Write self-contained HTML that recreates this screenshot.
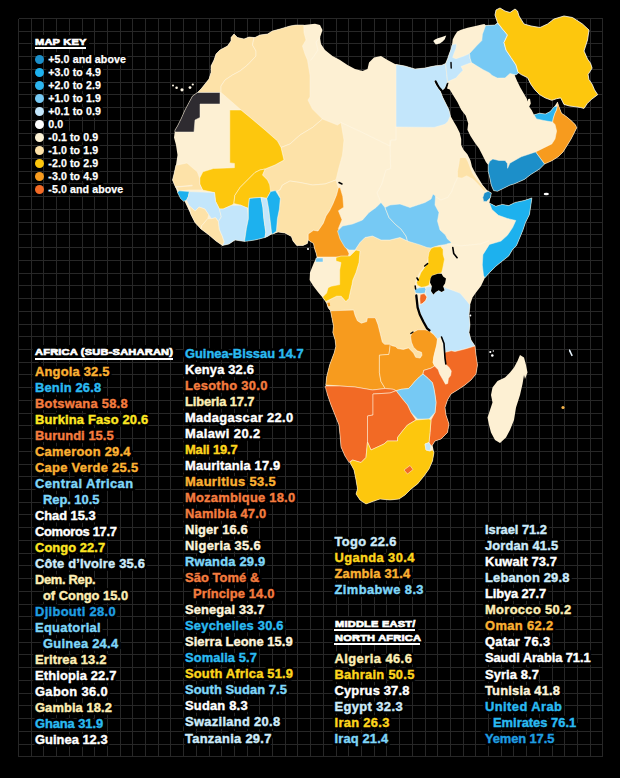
<!DOCTYPE html>
<html><head><meta charset="utf-8"><title>Map</title>
<style>
html,body{margin:0;padding:0;background:#000;}
body{width:620px;height:778px;position:relative;overflow:hidden;font-family:"Liberation Sans",sans-serif;}
.t{position:absolute;font-weight:bold;font-size:12.9px;line-height:16px;white-space:nowrap;letter-spacing:0.2px;-webkit-text-stroke:0.4px currentColor;}
.hl{color:#000 !important;-webkit-text-stroke:5.5px #000 !important;}
.h span{background:#000;padding:1px 2px 1px 2px;margin-left:-2px;}
.k{position:absolute;font-weight:bold;font-size:10.6px;line-height:12px;color:#fff;white-space:nowrap;letter-spacing:0.1px;-webkit-text-stroke:0.25px #fff;}
.dot{position:absolute;width:9px;height:9px;border-radius:50%;}
.h{position:absolute;font-weight:bold;color:#fff;font-size:9.8px;line-height:10px;letter-spacing:0.2px;white-space:nowrap;transform:scaleX(1.125);transform-origin:0 0;-webkit-text-stroke:0.7px #fff;}
.u{position:absolute;height:2px;background:#fff;z-index:3;}
</style></head><body>
<svg width="620" height="778" viewBox="0 0 620 778" style="position:absolute;left:0;top:0">
<path d="M18.50 18.50V756.80M31.50 18.50V756.80M43.50 18.50V756.80M56.50 18.50V756.80M69.50 18.50V756.80M82.50 18.50V756.80M94.50 18.50V756.80M107.50 18.50V756.80M120.50 18.50V756.80M132.50 18.50V756.80M145.50 18.50V756.80M158.50 18.50V756.80M170.50 18.50V756.80M183.50 18.50V756.80M196.50 18.50V756.80M209.50 18.50V756.80M221.50 18.50V756.80M234.50 18.50V756.80M247.50 18.50V756.80M259.50 18.50V756.80M272.50 18.50V756.80M285.50 18.50V756.80M297.50 18.50V756.80M310.50 18.50V756.80M323.50 18.50V756.80M336.50 18.50V756.80M348.50 18.50V756.80M361.50 18.50V756.80M374.50 18.50V756.80M386.50 18.50V756.80M399.50 18.50V756.80M412.50 18.50V756.80M425.50 18.50V756.80M437.50 18.50V756.80M450.50 18.50V756.80M463.50 18.50V756.80M475.50 18.50V756.80M488.50 18.50V756.80M501.50 18.50V756.80M513.50 18.50V756.80M526.50 18.50V756.80M539.50 18.50V756.80M552.50 18.50V756.80M564.50 18.50V756.80M577.50 18.50V756.80M590.50 18.50V756.80M602.50 18.50V756.80M18.50 18.50H602.90M18.50 31.50H602.90M18.50 43.50H602.90M18.50 56.50H602.90M18.50 69.50H602.90M18.50 82.50H602.90M18.50 94.50H602.90M18.50 107.50H602.90M18.50 120.50H602.90M18.50 133.50H602.90M18.50 145.50H602.90M18.50 158.50H602.90M18.50 171.50H602.90M18.50 183.50H602.90M18.50 196.50H602.90M18.50 209.50H602.90M18.50 222.50H602.90M18.50 234.50H602.90M18.50 247.50H602.90M18.50 260.50H602.90M18.50 273.50H602.90M18.50 285.50H602.90M18.50 298.50H602.90M18.50 311.50H602.90M18.50 324.50H602.90M18.50 336.50H602.90M18.50 349.50H602.90M18.50 362.50H602.90M18.50 374.50H602.90M18.50 387.50H602.90M18.50 400.50H602.90M18.50 413.50H602.90M18.50 425.50H602.90M18.50 438.50H602.90M18.50 451.50H602.90M18.50 464.50H602.90M18.50 476.50H602.90M18.50 489.50H602.90M18.50 502.50H602.90M18.50 514.50H602.90M18.50 527.50H602.90M18.50 540.50H602.90M18.50 553.50H602.90M18.50 565.50H602.90M18.50 578.50H602.90M18.50 591.50H602.90M18.50 604.50H602.90M18.50 616.50H602.90M18.50 629.50H602.90M18.50 642.50H602.90M18.50 654.50H602.90M18.50 667.50H602.90M18.50 680.50H602.90M18.50 693.50H602.90M18.50 705.50H602.90M18.50 718.50H602.90M18.50 731.50H602.90M18.50 744.50H602.90M18.50 756.50H602.90" stroke="#272727" stroke-width="1" shape-rendering="crispEdges" fill="none"/>
<g stroke-linejoin="round">
<polygon points="234.0,34.0 237.5,37.5 244.0,39.0 249.0,37.0 255.0,37.5 260.0,35.0 267.5,34.0 272.5,31.0 280.0,29.0 290.0,26.0 296.0,25.0 303.8,25.0 315.0,23.8 320.0,25.0 322.5,30.0 320.0,37.5 321.0,44.0 325.0,50.0 332.5,56.0 340.0,60.0 347.5,65.0 355.0,69.0 362.5,71.0 367.5,69.0 369.0,62.5 374.0,57.5 381.0,56.0 387.5,60.0 395.0,64.0 405.0,66.0 415.0,69.0 425.0,68.0 428.9,67.1 435.3,65.8 441.8,65.2 445.6,63.5 447.6,82.0 445.6,87.0 443.0,89.7 441.0,90.0 439.2,88.4 437.3,84.5 435.3,80.6 434.5,81.5 436.0,85.0 438.1,88.0 440.4,91.2 442.7,97.3 445.8,103.5 448.9,109.7 450.4,115.8 453.5,121.2 456.6,126.6 459.7,132.8 461.2,138.9 461.2,145.1 463.5,149.7 467.4,154.3 470.5,160.5 472.0,166.7 475.1,172.8 478.9,179.0 482.8,185.2 486.6,189.8 489.7,192.1 491.3,193.0 490.5,197.5 489.4,203.1 495.8,206.3 502.3,204.4 508.7,205.6 515.2,202.4 524.2,200.5 531.9,197.9 530.6,206.9 529.4,214.7 525.5,222.4 522.9,230.2 519.7,237.9 516.5,245.6 512.6,249.5 508.7,256.0 502.3,261.1 495.8,266.3 489.4,272.7 484.8,277.9 481.0,286.0 476.0,292.5 472.5,297.5 470.0,305.0 469.0,315.0 470.0,325.0 469.0,332.5 471.0,340.0 475.0,346.0 476.0,355.0 477.5,365.0 476.0,374.0 471.0,380.0 465.0,385.0 457.5,390.0 451.0,394.0 447.5,400.0 445.0,407.5 446.0,415.0 449.0,424.0 447.5,432.5 441.0,439.0 435.0,441.0 432.5,445.0 434.0,452.5 432.5,461.0 429.0,469.0 424.0,476.0 417.5,484.0 411.0,489.0 405.0,495.0 399.0,499.0 390.0,500.0 380.0,499.0 374.0,501.0 366.0,504.0 360.0,500.0 356.0,494.0 357.5,489.0 356.0,480.0 354.0,470.0 350.0,462.5 345.0,456.0 341.0,447.0 340.0,435.0 339.0,425.0 335.0,415.0 331.0,405.0 327.5,395.0 325.8,385.0 326.6,377.1 328.1,370.9 329.7,364.8 332.0,358.6 334.3,352.4 335.8,346.3 335.1,340.1 332.8,332.4 333.5,326.2 332.0,318.5 330.5,310.8 328.1,307.7 326.6,303.1 322.7,297.7 318.1,292.3 313.5,286.2 309.6,280.0 310.0,272.5 314.0,262.5 317.0,257.0 316.2,253.4 314.4,248.0 313.5,243.6 308.2,240.0 307.3,243.6 303.0,245.4 296.7,245.4 293.0,241.0 291.4,236.5 285.0,233.0 278.0,232.0 272.7,233.9 265.0,237.5 255.0,240.0 245.0,241.0 235.0,240.0 229.0,244.0 222.5,245.5 216.0,241.0 209.0,235.0 201.0,229.0 195.0,222.5 191.0,215.0 187.5,207.5 184.0,200.0 177.5,192.5 175.0,186.0 172.5,180.0 174.0,174.0 176.0,165.0 177.5,155.0 176.0,145.0 174.0,137.5 175.0,130.0 177.5,126.0 181.0,119.0 185.0,110.0 189.0,102.5 192.5,96.0 197.5,92.5 201.0,89.0 205.0,84.0 209.0,79.0 211.0,72.5 211.0,66.0 214.0,60.0 216.0,54.0 220.0,50.0 227.5,46.0 231.0,41.0 231.0,37.5" fill="#fdf0d3" stroke="none" stroke-width="0"/>
<polygon points="445.6,63.2 447.6,58.7 448.9,54.8 450.8,49.7 452.1,44.5 452.7,39.4 454.7,35.5 457.3,31.6 461.1,29.7 467.6,27.7 476.6,25.8 481.8,24.5 484.4,23.9 486.0,25.5 495.0,25.0 497.5,22.5 502.5,29.0 507.5,35.0 504.0,42.5 506.0,50.0 511.0,57.5 516.0,65.0 519.0,72.5 514.7,75.3 517.1,81.0 520.3,87.4 523.5,93.1 526.8,98.7 527.8,101.5 528.2,98.9 530.0,98.7 530.8,103.5 529.2,106.8 531.6,110.0 534.0,114.8 539.7,113.2 545.3,114.0 550.2,111.6 554.2,106.8 557.4,102.0 559.0,106.8 561.5,113.2 566.3,116.5 571.1,120.5 575.2,124.5 576.8,127.7 574.4,132.6 571.1,139.0 567.1,145.5 563.1,151.9 558.2,156.8 551.8,160.8 544.5,164.0 539.7,168.9 530.8,174.5 524.4,179.4 515.0,183.6 509.8,185.2 503.6,188.3 497.4,191.3 493.6,190.6 491.3,185.2 489.7,177.5 488.2,171.3 488.2,165.1 485.9,162.1 482.0,154.3 478.9,148.2 474.3,142.0 470.5,135.9 467.4,129.7 468.2,123.5 465.8,115.8 461.2,109.7 457.4,102.0 453.5,95.8 449.7,89.6 447.0,88.5 448.5,83.0 447.6,82.0" fill="#fdf0d3" stroke="none" stroke-width="0"/>
<polygon points="254.0,37.5 249.0,37.0 244.0,39.0 237.5,37.5 234.0,34.0 231.0,37.5 231.0,41.0 227.5,46.0 220.0,50.0 216.0,54.0 214.0,60.0 211.0,66.0 211.0,72.5 209.0,79.0 205.0,84.0 201.0,89.0 197.5,92.5 221.0,92.5 221.0,86.0 225.0,80.0 232.5,75.0 240.0,71.0 247.5,65.0 256.0,56.0 256.0,51.0 252.5,45.0" fill="#fde2a8" stroke="#fff6e2" stroke-width="0.5"/>
<polygon points="197.5,92.5 220.0,92.5 220.0,104.0 200.0,104.0 200.0,117.5 195.0,120.0 194.0,132.0 175.0,132.0 175.0,130.0 177.5,126.0 181.0,119.0 185.0,110.0 189.0,102.5 192.5,96.0" fill="#2e2b30" stroke="#fff6e2" stroke-width="0.5"/>
<polygon points="254.0,37.5 252.5,45.0 256.0,51.0 256.0,56.0 247.5,65.0 240.0,71.0 232.5,75.0 225.0,80.0 221.0,86.0 221.0,92.5 241.0,110.0 252.0,119.0 265.0,130.0 277.5,141.0 281.0,147.5 290.0,144.0 300.0,135.0 312.5,127.5 322.5,119.0 312.5,109.0 308.0,100.0 310.0,97.0 310.0,75.0 307.5,60.0 305.0,54.0 302.5,46.0 306.0,40.0 304.0,32.5 303.8,25.0 296.0,25.0 290.0,26.0 280.0,29.0 272.5,31.0 267.5,34.0 260.0,35.0 255.0,37.5" fill="#fde2a8" stroke="#fff6e2" stroke-width="0.5"/>
<polygon points="281.0,147.5 290.0,144.0 300.0,135.0 312.5,127.5 322.5,119.0 337.5,125.0 341.0,122.5 344.0,140.0 342.5,155.0 339.0,167.5 336.0,180.0 325.0,184.0 312.5,185.0 300.0,182.5 290.0,181.0 282.5,185.0 280.0,190.0 277.5,191.0 271.0,191.0 270.0,190.0 267.5,180.0 262.5,175.0 265.0,169.0 275.0,165.0 284.0,160.0" fill="#fde2a8" stroke="#fff6e2" stroke-width="0.5"/>
<polygon points="280.0,190.0 282.5,185.0 290.0,181.0 300.0,182.5 312.5,185.0 325.0,184.0 336.0,180.0 338.4,187.7 336.6,194.8 333.0,203.7 329.5,210.8 326.0,216.0 323.3,223.2 318.0,231.0 313.5,230.3 308.2,234.0 308.2,240.0 307.3,243.6 303.0,245.4 296.7,245.4 293.0,241.0 291.4,236.5 285.0,233.0 278.0,232.0 272.7,233.9 276.4,231.3 277.4,218.7 279.4,209.0 280.3,198.4 277.5,191.0" fill="#fde2a8" stroke="#fff6e2" stroke-width="0.5"/>
<polygon points="229.8,110.0 241.0,110.0 252.0,119.0 265.0,130.0 277.5,141.0 281.0,147.5 284.0,160.0 275.0,165.0 265.0,169.0 260.0,170.0 255.0,172.5 247.5,180.0 240.0,187.5 234.8,195.5 233.9,203.5 231.9,205.2 223.2,209.0 219.4,209.0 215.5,201.3 214.5,192.6 202.5,190.0 199.7,184.0 199.7,178.2 202.9,171.8 213.4,168.5 234.4,167.7 234.4,163.4 229.8,162.9" fill="#fdc70d" stroke="#fff6e2" stroke-width="0.5"/>
<polygon points="260.0,170.0 265.0,169.0 262.5,175.0 267.5,180.0 269.7,184.8 270.6,191.6 266.8,198.4 261.0,197.4 249.4,198.4 248.4,207.1 247.4,208.1 240.6,205.2 233.9,203.5 234.8,195.5 240.0,187.5 247.5,180.0 255.0,172.5" fill="#fdc70d" stroke="#fff6e2" stroke-width="0.5"/>
<polygon points="177.5,165.0 187.0,163.0 192.5,167.8 197.3,171.8 199.7,178.2 199.7,184.0 202.5,190.0 190.0,190.0 179.0,191.0 175.0,186.0 172.5,180.0 174.0,174.0 176.0,165.0" fill="#fde2a8" stroke="#fff6e2" stroke-width="0.5"/>
<polygon points="177.5,192.5 179.0,190.8 189.4,191.6 188.4,196.5 186.5,200.3 183.5,201.3 180.5,198.5" fill="#1db1ee" stroke="#fff6e2" stroke-width="0.5"/>
<polygon points="189.4,191.6 201.0,192.0 214.5,192.6 215.5,201.3 219.4,209.0 221.3,216.8 218.4,221.6 215.5,217.7 211.6,218.7 208.7,214.8 204.8,209.0 199.0,207.1 195.2,211.0 189.4,206.1 186.5,200.3 188.4,196.5" fill="#c3e6fb" stroke="#fff6e2" stroke-width="0.5"/>
<polygon points="195.2,211.0 199.0,207.1 204.8,209.0 208.7,214.8 207.7,218.7 201.9,225.5 201.0,229.0 195.0,222.5 191.0,214.5 189.4,206.1" fill="#fde2a8" stroke="#fff6e2" stroke-width="0.5"/>
<polygon points="201.9,225.5 207.7,218.7 211.6,218.7 215.5,217.7 218.4,221.6 219.4,229.4 222.3,236.1 224.2,241.9 222.5,245.5 216.0,241.0 209.0,235.0 201.0,229.0" fill="#fde2a8" stroke="#fff6e2" stroke-width="0.5"/>
<polygon points="218.4,221.6 221.3,216.8 219.4,209.0 223.2,209.0 231.9,205.2 240.6,205.2 247.4,208.1 248.4,218.7 246.4,228.4 244.5,241.5 235.0,240.0 229.0,244.0 222.5,245.5 224.2,241.9 222.3,236.1 219.4,229.4" fill="#c3e6fb" stroke="#fff6e2" stroke-width="0.5"/>
<polygon points="249.4,198.4 261.0,197.4 262.9,207.1 263.9,218.7 265.8,232.3 265.0,237.5 255.0,240.0 244.5,241.5 246.4,228.4 248.4,218.7 248.4,207.1" fill="#1db1ee" stroke="#fff6e2" stroke-width="0.5"/>
<polygon points="261.0,197.4 266.8,198.4 268.7,209.0 270.6,224.5 271.6,233.2 268.0,236.3 265.0,237.5 265.8,232.3 263.9,218.7 262.9,207.1" fill="#c3e6fb" stroke="#fff6e2" stroke-width="0.5"/>
<polygon points="266.8,198.4 270.6,191.6 275.5,190.6 280.3,198.4 279.4,209.0 277.4,218.7 276.4,231.3 272.7,233.9 271.6,233.2 270.6,224.5 268.7,209.0" fill="#1db1ee" stroke="#fff6e2" stroke-width="0.5"/>
<polygon points="338.4,187.7 340.2,187.7 342.8,196.6 343.7,207.3 338.4,210.8 342.0,219.7 338.4,228.6 342.0,237.4 345.5,246.3 349.0,253.4 348.2,257.0 333.0,257.0 317.0,257.0 316.2,253.4 314.4,248.0 313.5,243.6 308.2,240.0 308.2,234.0 313.5,230.3 318.0,231.0 323.3,223.2 326.0,216.0 329.5,210.8 333.0,203.7 336.6,194.8" fill="#f79b1e" stroke="#fff6e2" stroke-width="0.5"/>
<polygon points="316.0,258.0 323.0,258.0 323.0,262.0 315.5,262.0" fill="#76c9f4" stroke="#fff6e2" stroke-width="0.5"/>
<polygon points="360.0,251.0 355.0,250.0 360.0,242.5 365.0,237.5 372.5,236.0 381.0,240.0 390.0,240.0 400.0,237.5 407.5,241.0 417.5,242.5 425.0,246.0 432.5,246.0 430.0,255.0 426.0,265.0 420.0,272.5 416.0,280.0 415.0,290.0 416.5,300.0 417.2,307.3 419.4,314.5 423.0,321.8 426.6,328.3 429.5,330.5 425.2,329.8 417.9,329.8 412.1,332.7 410.6,336.3 411.4,342.1 413.5,347.2 417.2,350.8 421.5,352.3 422.0,355.2 420.1,358.1 415.7,357.3 413.5,353.0 410.6,350.1 408.5,347.9 403.4,349.4 397.6,348.6 395.4,346.5 391.8,345.7 390.3,344.3 384.5,344.3 382.3,342.1 380.2,333.4 378.0,324.7 375.8,318.9 375.0,317.8 367.4,317.8 366.7,321.6 361.3,323.2 357.4,320.8 355.1,315.5 353.6,310.1 330.5,310.8 328.1,307.7 326.6,303.1 325.8,301.6 332.0,298.5 336.6,296.2 341.2,296.2 345.9,301.6 348.9,298.5 350.5,290.8 352.0,284.6 352.8,280.0 356.0,272.5 359.0,262.5" fill="#fde2a8" stroke="#fff6e2" stroke-width="0.5"/>
<polygon points="327.2,303.0 329.6,302.6 330.2,306.0 328.3,306.3" fill="#f79b1e" stroke="none" stroke-width="0"/>
<polygon points="336.0,257.5 341.0,256.0 350.0,256.0 356.0,250.0 360.0,251.0 359.0,262.5 356.0,272.5 352.8,280.0 352.0,284.6 350.5,290.8 348.9,298.5 345.9,301.6 341.2,296.2 336.6,296.2 332.0,298.5 325.8,301.6 322.7,297.0 326.6,293.1 328.1,287.7 331.2,286.2 339.7,284.6 339.7,270.0 341.0,262.5 336.0,261.0" fill="#fdc70d" stroke="#fff6e2" stroke-width="0.5"/>
<polygon points="337.5,231.0 342.5,226.0 352.5,224.0 362.5,220.0 369.0,212.5 376.0,207.5 381.0,202.5 385.0,207.5 389.0,217.5 395.0,224.0 401.0,229.0 406.0,236.0 407.5,241.0 400.0,237.5 390.0,240.0 381.0,240.0 372.5,236.0 365.0,237.5 360.0,242.5 355.0,250.0 349.0,250.0 345.0,247.5 340.0,239.0" fill="#76c9f4" stroke="#fff6e2" stroke-width="0.5"/>
<polygon points="385.0,207.5 390.0,205.0 400.0,204.0 410.0,207.5 417.5,205.0 425.0,202.5 431.0,199.0 433.0,194.0 435.5,196.0 435.0,205.0 439.0,212.5 437.5,221.0 440.0,230.0 445.5,235.0 447.4,238.9 451.3,242.3 450.3,243.2 444.5,244.7 438.7,245.6 431.0,248.1 427.1,247.6 419.4,244.7 409.7,241.8 407.5,241.0 406.0,236.0 401.0,229.0 395.0,224.0 389.0,217.5" fill="#76c9f4" stroke="#fff6e2" stroke-width="0.5"/>
<polygon points="431.0,248.6 433.9,247.1 440.7,246.6 443.1,249.5 443.1,254.4 444.5,259.2 443.6,264.0 442.6,268.9 441.6,272.8 437.8,273.7 431.9,275.7 430.0,280.5 429.0,285.3 425.2,286.8 421.3,287.3 417.4,285.3 416.5,282.4 419.4,276.6 420.8,272.8 424.2,267.9 428.1,263.1 428.1,257.3 429.0,252.4" fill="#fdc70d" stroke="#fff6e2" stroke-width="0.5"/>
<polygon points="414.5,289.2 419.4,287.8 424.7,287.3 426.1,289.2 425.2,293.1 420.8,293.6 415.5,293.1" fill="#76c9f4" stroke="#fff6e2" stroke-width="0.5"/>
<polygon points="420.3,294.5 424.2,293.6 427.1,297.0 425.7,300.8 422.3,303.7 420.3,304.7 419.8,298.9" fill="#f26a25" stroke="#fff6e2" stroke-width="0.5"/>
<polygon points="425.2,293.1 426.1,289.2 425.5,287.3 429.0,286.5 431.9,286.3 431.0,291.1 433.4,294.5 435.8,292.1 438.7,290.2 441.6,292.1 444.5,290.2 443.1,286.3 445.5,287.8 452.3,290.2 460.0,293.1 466.0,300.0 470.0,305.0 469.0,315.0 470.0,325.0 469.0,332.5 471.0,340.0 475.0,346.0 465.0,349.0 455.0,351.5 451.3,350.8 444.5,352.5 443.3,350.8 442.6,343.5 441.1,337.0 437.5,339.2 433.9,334.8 430.0,330.5 427.5,328.0 424.0,321.5 420.5,314.0 418.5,305.0 422.3,303.7 425.7,300.8 427.1,297.0" fill="#c3e6fb" stroke="#fff6e2" stroke-width="0.5"/>
<polygon points="489.4,203.1 495.8,206.3 502.3,204.4 508.7,205.6 515.2,202.4 524.2,200.5 531.9,197.9 530.6,206.9 529.4,214.7 525.5,222.4 522.9,230.2 519.7,237.9 516.5,245.6 512.6,249.5 508.7,256.0 502.3,261.1 495.8,266.3 489.4,272.7 484.8,277.9 483.5,275.3 482.3,265.0 482.9,254.7 489.4,244.4 501.0,241.1 507.4,235.3 512.6,227.6 515.8,220.5 507.4,218.5 498.4,215.3 491.9,209.5" fill="#1db1ee" stroke="#fff6e2" stroke-width="0.5"/>
<polygon points="484.3,192.9 488.2,191.3 491.3,192.9 490.5,197.5 486.6,201.4 483.6,201.4 482.8,197.5" fill="#1c8fc9" stroke="#fff6e2" stroke-width="0.5"/>
<polygon points="459.7,157.4 465.8,157.4 468.2,162.1 470.5,168.2 472.8,173.6 476.6,179.0 482.0,185.2 486.6,190.6 484.3,191.3 478.9,185.2 472.8,179.0 466.6,175.9 462.0,178.2 457.4,177.5 457.4,171.3 458.9,163.6" fill="#fde2a8" stroke="#fff6e2" stroke-width="0.5"/>
<polygon points="396.0,64.5 405.0,66.0 415.0,69.0 425.0,68.0 428.9,67.1 435.3,65.8 441.8,65.2 445.6,63.5 447.6,82.0 445.6,87.0 443.0,89.7 441.0,90.0 439.2,88.4 437.3,84.5 435.3,80.6 434.5,81.5 436.0,85.0 438.1,88.0 440.4,91.2 442.7,97.3 445.8,103.5 448.9,109.7 450.4,115.8 448.1,121.2 445.0,124.3 434.2,127.4 396.0,127.0" fill="#c3e6fb" stroke="#fff6e2" stroke-width="0.5"/>
<polygon points="452.1,44.5 456.6,43.9 456.0,48.4 454.0,53.5 452.7,57.4 456.0,58.7 463.7,56.1 469.5,53.5 470.2,58.7 471.5,62.6 466.3,64.5 461.1,66.5 463.1,70.3 459.2,74.2 456.0,78.1 450.2,80.6 447.6,81.9 445.6,63.5 447.6,58.7 448.9,54.8 450.8,49.7" fill="#c3e6fb" stroke="#fff6e2" stroke-width="0.5"/>
<polygon points="485.6,25.5 495.0,25.0 497.5,23.0 502.5,29.0 507.5,35.0 504.0,42.5 506.0,50.0 511.0,57.5 516.0,65.0 519.0,72.5 516.0,75.0 510.0,73.5 505.0,78.0 497.3,78.1 492.1,75.5 489.5,72.9 483.1,69.7 476.6,65.8 471.5,62.6 470.2,58.7 469.5,53.5 476.6,45.8 481.8,40.6 482.4,34.2" fill="#76c9f4" stroke="#fff6e2" stroke-width="0.5"/>
<polygon points="496.0,10.0 500.0,8.0 505.0,11.0 510.0,12.5 515.0,9.0 517.5,11.0 519.0,16.0 524.0,24.0 531.0,26.0 540.0,27.5 547.5,24.0 554.0,19.0 564.0,16.0 572.5,17.5 582.5,24.0 589.0,30.0 587.5,40.0 584.0,51.0 587.5,59.0 590.5,63.2 592.1,68.1 588.1,74.5 588.9,79.4 592.1,84.2 594.5,89.8 597.7,94.7 591.3,99.5 587.3,103.5 584.0,108.4 580.8,107.6 576.0,106.8 569.5,106.0 563.9,104.4 562.3,101.1 560.6,97.9 556.6,98.7 551.8,100.3 545.3,97.9 539.7,94.7 534.8,89.8 530.8,84.2 527.6,77.7 521.1,74.5 517.9,72.1 516.0,65.0 511.0,57.5 506.0,50.0 504.0,42.5 507.5,35.0 502.5,29.0 497.5,22.5 495.0,15.0" fill="#fdc70d" stroke="#fffdf5" stroke-width="0.8"/>
<polygon points="534.0,114.8 539.7,113.2 545.3,114.0 550.2,111.6 554.2,106.8 557.4,106.0 556.6,110.0 555.0,113.2 553.4,118.1 552.6,122.1 543.7,120.5 536.5,118.9" fill="#2cb5ef" stroke="#fff6e2" stroke-width="0.5"/>
<polygon points="557.4,102.0 559.0,106.8 561.5,113.2 566.3,116.5 571.1,120.5 575.2,124.5 576.8,127.7 574.4,132.6 571.1,139.0 567.1,145.5 563.1,151.9 558.2,156.8 551.8,160.8 544.5,164.0 535.6,151.9 543.7,147.9 551.8,143.9 555.0,139.0 556.6,131.0 555.0,124.5 552.6,122.1 553.4,118.1 555.0,113.2 556.6,110.0 557.4,106.0" fill="#f79b1e" stroke="#fff6e2" stroke-width="0.5"/>
<polygon points="488.2,165.1 489.7,161.3 492.8,159.0 499.0,160.5 505.1,160.5 507.4,163.6 507.6,168.3 509.8,163.2 521.1,156.8 535.6,151.9 544.5,164.0 539.7,168.9 530.8,174.5 524.4,179.4 515.0,183.6 509.8,185.2 503.6,188.3 497.4,191.3 493.6,190.6 491.3,185.2 489.7,177.5 488.2,171.3" fill="#1c8fc9" stroke="#fff6e2" stroke-width="0.5"/>
<polygon points="330.5,310.8 353.6,310.1 355.1,315.5 357.4,320.8 361.3,323.2 366.7,321.6 367.4,317.8 375.0,317.8 375.8,318.9 378.0,324.7 380.2,333.4 382.3,342.1 384.5,344.3 390.3,344.3 389.6,350.1 388.9,354.4 379.4,355.2 379.4,372.6 380.9,381.3 385.2,388.5 372.5,390.0 355.0,387.0 340.0,386.0 325.8,385.0 326.6,377.1 328.1,370.9 329.7,364.8 332.0,358.6 334.3,352.4 335.8,346.3 335.1,340.1 332.8,332.4 333.5,326.2 332.0,318.5" fill="#f79b1e" stroke="#fff6e2" stroke-width="0.5"/>
<polygon points="390.3,344.3 391.8,345.7 395.4,346.5 397.6,348.6 403.4,349.4 408.5,347.9 410.6,350.1 413.5,353.0 415.7,357.3 420.1,358.1 422.0,355.2 421.5,352.3 417.2,350.8 413.5,347.2 411.4,342.1 410.6,336.3 412.1,332.7 417.9,329.8 425.2,329.8 429.5,331.2 433.9,334.8 437.5,339.2 436.8,345.0 435.3,350.8 433.9,356.6 433.1,362.4 434.6,366.0 431.0,368.2 423.7,370.4 423.0,374.0 419.4,376.9 415.0,381.3 411.4,385.6 408.5,388.5 401.2,389.3 396.1,390.7 393.2,389.3 385.2,388.5 380.9,381.3 379.4,372.6 379.4,355.2 388.9,354.4 389.6,350.1" fill="#f79b1e" stroke="#fff6e2" stroke-width="0.5"/>
<polygon points="437.5,339.2 441.1,337.0 442.6,343.5 443.3,350.8 444.0,358.1 445.5,363.9 449.1,367.5 451.3,371.1 450.6,375.5 448.4,378.4 447.7,383.5 445.5,384.2 442.6,379.1 439.7,374.0 438.2,369.7 434.6,366.0 433.1,362.4 433.9,356.6 435.3,350.8 436.8,345.0" fill="#fdf0d3" stroke="#fff6e2" stroke-width="0.5"/>
<polygon points="444.5,352.5 451.3,350.8 455.0,351.5 465.0,349.0 475.0,346.0 476.0,355.0 477.5,365.0 476.0,374.0 471.0,380.0 465.0,385.0 457.5,390.0 451.0,394.0 447.5,400.0 445.0,407.5 446.0,415.0 449.0,424.0 447.5,432.5 441.0,439.0 435.0,441.0 432.5,445.0 431.0,446.0 429.0,442.5 430.0,432.5 431.0,420.0 435.0,412.5 436.0,402.5 435.0,395.0 433.9,388.5 432.4,382.7 428.1,378.4 423.0,374.0 423.7,370.4 431.0,368.2 434.6,366.0 438.2,369.7 439.7,374.0 442.6,379.1 445.5,384.2 447.7,383.5 448.4,378.4 450.6,375.5 451.3,371.1 449.1,367.5 445.5,363.9 444.5,358.0" fill="#f26a25" stroke="#fff6e2" stroke-width="0.5"/>
<polygon points="396.1,390.7 401.2,389.3 408.5,388.5 411.4,385.6 415.0,381.3 419.4,376.9 423.0,374.0 428.1,378.4 432.4,382.7 433.9,388.5 435.0,395.0 436.0,402.5 435.0,412.5 429.0,419.0 417.5,419.0 411.0,412.5 407.5,405.0 402.5,399.0" fill="#76c9f4" stroke="#fff6e2" stroke-width="0.5"/>
<polygon points="325.0,386.0 340.0,386.0 355.0,387.0 372.5,390.0 385.2,388.5 393.2,389.3 396.1,390.7 390.0,393.0 373.0,394.0 373.0,415.0 367.5,416.0 367.5,442.0 366.0,457.5 361.0,462.5 352.5,460.0 349.0,462.5 345.0,456.0 341.0,447.0 340.0,435.0 339.0,425.0 335.0,415.0 331.0,405.0 327.5,395.0" fill="#f26a25" stroke="#fff6e2" stroke-width="0.5"/>
<polygon points="373.0,394.0 390.0,393.0 396.1,390.7 402.5,399.0 407.5,405.0 411.0,412.5 416.0,420.0 407.5,425.0 402.5,431.0 397.5,437.5 397.5,441.0 387.5,441.0 384.0,444.0 371.0,450.0 367.5,442.0 367.5,416.0 373.0,415.0" fill="#f26a25" stroke="#fff6e2" stroke-width="0.5"/>
<polygon points="416.0,420.0 429.0,419.0 431.0,420.0 430.0,432.5 429.0,442.5 425.0,444.0 426.0,450.0 430.0,451.0 432.5,450.0 434.0,452.5 432.5,461.0 429.0,469.0 424.0,476.0 417.5,484.0 411.0,489.0 405.0,495.0 399.0,499.0 390.0,500.0 380.0,499.0 374.0,501.0 366.0,504.0 360.0,500.0 356.0,494.0 357.5,489.0 356.0,480.0 354.0,470.0 350.0,462.5 352.5,460.0 361.0,462.5 366.0,457.5 367.5,442.0 371.0,450.0 384.0,444.0 387.5,441.0 397.5,441.0 397.5,437.5 402.5,431.0 407.5,425.0" fill="#fdc70d" stroke="#fff6e2" stroke-width="0.5"/>
<polygon points="425.0,444.0 429.0,442.5 431.0,446.0 430.0,451.0 426.0,450.0" fill="#c3e6fb" stroke="#fff6e2" stroke-width="0.5"/>
<polygon points="404.0,470.0 410.0,465.5 413.0,469.5 407.5,474.0" fill="#f26a25" stroke="#fff6e2" stroke-width="0.5"/>
<polygon points="520.0,355.0 524.0,357.5 526.0,365.0 527.5,372.5 525.0,379.0 524.0,375.0 522.5,384.0 520.0,395.0 516.0,407.5 514.0,420.0 510.0,430.0 506.0,437.5 500.0,443.0 495.0,440.0 491.0,432.5 489.0,425.0 487.5,417.5 490.0,410.0 492.5,402.5 491.0,395.0 492.5,387.5 497.5,381.0 505.0,377.5 510.0,372.5 514.0,367.5 517.5,361.0" fill="#fdf0d3" stroke="none" stroke-width="0"/>
<polygon points="433.2,41.0 435.0,39.4 437.7,38.2 442.0,37.1 446.2,35.6 444.8,39.2 442.7,41.4 439.9,43.5 435.8,44.4" fill="#fff6e0" stroke="none" stroke-width="0"/>
<polygon points="569.2,349.0 570.6,350.5 571.6,353.0 572.9,355.5 571.5,356.2 570.2,353.6 568.9,351.0" fill="#e8f5fd" stroke="none" stroke-width="0"/>
<polygon points="431.9,275.7 437.8,273.7 441.6,273.7 443.1,276.6 446.0,278.6 445.0,283.4 443.1,286.3 444.5,290.2 441.6,292.1 438.7,290.2 435.8,292.1 433.4,294.5 431.0,291.1 431.9,286.3 430.0,282.4 430.5,278.6" fill="#000" stroke="none" stroke-width="0"/>
<polyline points="416.3,295.5 416.8,300.0 417.6,307.3 419.8,314.5 423.4,321.8 427.0,328.3 429.5,330.3" fill="none" stroke="#000" stroke-width="2.3" stroke-linecap="round"/>
<polyline points="441.5,337.0 444.0,343.5 444.5,350.8 445.0,358.1 445.8,364.0" fill="none" stroke="#000" stroke-width="1.6" stroke-linecap="round"/>
<polyline points="410.8,333.5 413.0,332.0" fill="none" stroke="#000" stroke-width="1.3" stroke-linecap="round"/>
<polyline points="452.8,247.6 453.7,253.4 457.1,257.7" fill="none" stroke="#000" stroke-width="1.6" stroke-linecap="round"/>
<polyline points="415.2,286.0 415.6,289.0" fill="none" stroke="#000" stroke-width="1.5" stroke-linecap="round"/>
<polyline points="417.0,278.0 418.2,280.0" fill="none" stroke="#000" stroke-width="1.6" stroke-linecap="round"/>
<polyline points="424.7,266.0 427.6,263.6" fill="none" stroke="#000" stroke-width="1.5" stroke-linecap="round"/>
<polyline points="339.0,182.5 342.0,184.0" fill="none" stroke="#000" stroke-width="1.5" stroke-linecap="round"/>
<polyline points="175.5,186.8 183.0,186.3 192.0,185.5" fill="none" stroke="#fdf0d3" stroke-width="1.3" stroke-linecap="round"/>
<polyline points="451.0,62.5 451.2,68.0" fill="none" stroke="#000" stroke-width="1.4" stroke-linecap="round"/>
<polyline points="435.6,81.3 437.3,84.5 439.2,87.8 441.5,90.3" fill="none" stroke="#000" stroke-width="2.0" stroke-linecap="round"/>
<polyline points="447.4,83.5 445.6,88.5" fill="none" stroke="#000" stroke-width="1.2" stroke-linecap="round"/>
<polyline points="341.0,122.5 362.5,132.5 390.0,146.0 391.0,140.0 396.0,140.0 396.0,127.0" fill="none" stroke="#fff8e8" stroke-width="0.5" stroke-linecap="round"/>
<polyline points="390.0,141.0 390.6,168.4 385.8,170.3 381.9,183.9 377.0,193.0 381.0,202.5" fill="none" stroke="#fff8e8" stroke-width="0.5" stroke-linecap="round"/>
<polyline points="457.4,178.0 454.5,183.9 451.6,191.6 447.7,197.4 441.0,200.0 436.0,197.0" fill="none" stroke="#fff8e8" stroke-width="0.5" stroke-linecap="round"/>
<polyline points="447.7,243.9 461.3,245.8 480.6,243.9 488.4,241.0" fill="none" stroke="#fff8e8" stroke-width="0.5" stroke-linecap="round"/>
<polyline points="320.0,37.5 316.0,42.0 318.0,50.0 314.0,56.0 311.0,60.0" fill="none" stroke="#fff8e8" stroke-width="0.5" stroke-linecap="round"/>
<circle cx="173" cy="85.5" r="1.0" fill="#fff8e6"/>
<circle cx="176.6" cy="87.7" r="1.3" fill="#fff8e6"/>
<circle cx="182" cy="89.8" r="1.6" fill="#fff8e6"/>
<circle cx="190" cy="87.6" r="1.4" fill="#fff8e6"/>
<circle cx="192.8" cy="84.5" r="1.1" fill="#fff8e6"/>
<circle cx="470.3" cy="315.4" r="1.0" fill="#fff"/>
<circle cx="490.3" cy="352" r="1.1" fill="#fff"/>
<circle cx="492.3" cy="355.5" r="1.3" fill="#fff"/>
<circle cx="493.3" cy="351" r="0.7" fill="#fff"/>
<circle cx="563" cy="407.5" r="1.6" fill="#f7b44a"/>
<circle cx="308" cy="249" r="1.0" fill="#fff"/>
<ellipse cx="546.3" cy="194" rx="2.6" ry="1.2" fill="#fff"/>
</g></svg>
<div class="h" style="left:34.8px;top:36.7px"><span>MAP KEY</span></div><div class="u" style="left:34.5px;top:46.6px;width:51.5px"></div>
<div class="h" style="left:35px;top:347.2px"><span>AFRICA (SUB-SAHARAN)</span></div><div class="u" style="left:34.5px;top:357.7px;width:138px"></div>
<div class="h" style="left:334.5px;top:619.0px"><span>MIDDLE EAST/</span></div><div class="u" style="left:334.2px;top:629px;width:80.5px"></div>
<div class="h" style="left:334.5px;top:632.8px"><span>NORTH AFRICA</span></div><div class="u" style="left:334.2px;top:643px;width:85.5px"></div>
<div class="t hl" style="left:35.0px;top:363.53px;letter-spacing:0.20px">Angola 32.5</div>
<div class="t hl" style="left:35.0px;top:379.55px;letter-spacing:0.18px">Benin 26.8</div>
<div class="t hl" style="left:35.0px;top:395.57px;letter-spacing:0.25px">Botswana 58.8</div>
<div class="t hl" style="left:35.0px;top:411.59px;letter-spacing:0.17px">Burkina Faso 20.6</div>
<div class="t hl" style="left:35.0px;top:427.61px;letter-spacing:0.05px">Burundi 15.5</div>
<div class="t hl" style="left:35.0px;top:443.63px;letter-spacing:0.26px">Cameroon 29.4</div>
<div class="t hl" style="left:35.0px;top:459.65px;letter-spacing:0.30px">Cape Verde 25.5</div>
<div class="t hl" style="left:35.0px;top:475.67px;letter-spacing:0.44px">Central African</div>
<div class="t hl" style="left:43.0px;top:491.69px;letter-spacing:-0.03px">Rep. 10.5</div>
<div class="t hl" style="left:35.0px;top:507.71px;letter-spacing:-0.04px">Chad 15.3</div>
<div class="t hl" style="left:35.0px;top:523.73px;letter-spacing:-0.31px">Comoros 17.7</div>
<div class="t hl" style="left:35.0px;top:539.75px;letter-spacing:0.07px">Congo 22.7</div>
<div class="t hl" style="left:35.0px;top:555.77px;letter-spacing:0.18px">Côte d’Ivoire 35.6</div>
<div class="t hl" style="left:35.0px;top:571.79px;letter-spacing:-0.31px">Dem. Rep.</div>
<div class="t hl" style="left:43.0px;top:587.81px;letter-spacing:-0.01px">of Congo 15.0</div>
<div class="t hl" style="left:35.0px;top:603.83px;letter-spacing:0.33px">Djibouti 28.0</div>
<div class="t hl" style="left:35.0px;top:619.85px;letter-spacing:0.29px">Equatorial</div>
<div class="t hl" style="left:43.0px;top:635.87px;letter-spacing:0.27px">Guinea 24.4</div>
<div class="t hl" style="left:35.0px;top:651.89px;letter-spacing:0.17px">Eritrea 13.2</div>
<div class="t hl" style="left:35.0px;top:667.91px;letter-spacing:0.15px">Ethiopia 22.7</div>
<div class="t hl" style="left:35.0px;top:683.93px;letter-spacing:0.34px">Gabon 36.0</div>
<div class="t hl" style="left:35.0px;top:699.95px;letter-spacing:0.09px">Gambia 18.2</div>
<div class="t hl" style="left:35.0px;top:715.97px;letter-spacing:-0.08px">Ghana 31.9</div>
<div class="t hl" style="left:35.0px;top:731.99px;letter-spacing:0.02px">Guinea 12.3</div>
<div class="t hl" style="left:185.0px;top:346.03px;letter-spacing:-0.02px">Guinea-Bissau 14.7</div>
<div class="t hl" style="left:185.0px;top:362.05px;letter-spacing:0.16px">Kenya 32.6</div>
<div class="t hl" style="left:185.0px;top:378.07px;letter-spacing:0.32px">Lesotho 30.0</div>
<div class="t hl" style="left:185.0px;top:394.09px;letter-spacing:-0.14px">Liberia 17.7</div>
<div class="t hl" style="left:185.0px;top:410.11px;letter-spacing:0.35px">Madagascar 22.0</div>
<div class="t hl" style="left:185.0px;top:426.13px;letter-spacing:0.42px">Malawi 20.2</div>
<div class="t hl" style="left:185.0px;top:442.15px;letter-spacing:-0.14px">Mali 19.7</div>
<div class="t hl" style="left:185.0px;top:458.17px;letter-spacing:0.14px">Mauritania 17.9</div>
<div class="t hl" style="left:185.0px;top:474.19px;letter-spacing:0.36px">Mauritius 53.5</div>
<div class="t hl" style="left:185.0px;top:490.21px;letter-spacing:0.24px">Mozambique 18.0</div>
<div class="t hl" style="left:185.0px;top:506.23px;letter-spacing:0.21px">Namibia 47.0</div>
<div class="t hl" style="left:185.0px;top:522.25px;letter-spacing:0.11px">Niger 16.6</div>
<div class="t hl" style="left:185.0px;top:538.27px;letter-spacing:0.29px">Nigeria 35.6</div>
<div class="t hl" style="left:185.0px;top:554.29px;letter-spacing:0.20px">Rwanda 29.9</div>
<div class="t hl" style="left:185.0px;top:570.31px;letter-spacing:0.09px">São Tomé &</div>
<div class="t hl" style="left:193.0px;top:586.33px;letter-spacing:0.15px">Príncipe 14.0</div>
<div class="t hl" style="left:185.0px;top:602.35px;letter-spacing:0.11px">Senegal 33.7</div>
<div class="t hl" style="left:185.0px;top:618.37px;letter-spacing:0.23px">Seychelles 30.6</div>
<div class="t hl" style="left:185.0px;top:634.39px;letter-spacing:0.05px">Sierra Leone 15.9</div>
<div class="t hl" style="left:185.0px;top:650.41px;letter-spacing:0.09px">Somalia 5.7</div>
<div class="t hl" style="left:185.0px;top:666.43px;letter-spacing:0.20px">South Africa 51.9</div>
<div class="t hl" style="left:185.0px;top:682.45px;letter-spacing:0.06px">South Sudan 7.5</div>
<div class="t hl" style="left:185.0px;top:698.47px;letter-spacing:0.21px">Sudan 8.3</div>
<div class="t hl" style="left:185.0px;top:714.49px;letter-spacing:0.32px">Swaziland 20.8</div>
<div class="t hl" style="left:185.0px;top:730.51px;letter-spacing:0.29px">Tanzania 29.7</div>
<div class="t hl" style="left:334.5px;top:534.23px;letter-spacing:0.33px">Togo 22.6</div>
<div class="t hl" style="left:334.5px;top:550.25px;letter-spacing:0.39px">Uganda 30.4</div>
<div class="t hl" style="left:334.5px;top:566.27px;letter-spacing:0.18px">Zambia 31.4</div>
<div class="t hl" style="left:334.5px;top:582.29px;letter-spacing:0.41px">Zimbabwe 8.3</div>
<div class="t hl" style="left:334.5px;top:650.53px;letter-spacing:0.45px">Algeria 46.6</div>
<div class="t hl" style="left:334.5px;top:666.55px;letter-spacing:0.29px">Bahrain 50.5</div>
<div class="t hl" style="left:334.5px;top:682.57px;letter-spacing:0.18px">Cyprus 37.8</div>
<div class="t hl" style="left:334.5px;top:698.59px;letter-spacing:0.40px">Egypt 32.3</div>
<div class="t hl" style="left:334.5px;top:714.61px;letter-spacing:0.32px">Iran 26.3</div>
<div class="t hl" style="left:334.5px;top:730.63px;letter-spacing:0.16px">Iraq 21.4</div>
<div class="t hl" style="left:485.0px;top:522.33px;letter-spacing:-0.05px">Israel 71.2</div>
<div class="t hl" style="left:485.0px;top:538.35px;letter-spacing:0.14px">Jordan 41.5</div>
<div class="t hl" style="left:485.0px;top:554.37px;letter-spacing:0.09px">Kuwait 73.7</div>
<div class="t hl" style="left:485.0px;top:570.39px;letter-spacing:0.18px">Lebanon 29.8</div>
<div class="t hl" style="left:485.0px;top:586.41px;letter-spacing:-0.14px">Libya 27.7</div>
<div class="t hl" style="left:485.0px;top:602.43px;letter-spacing:0.34px">Morocco 50.2</div>
<div class="t hl" style="left:485.0px;top:618.45px;letter-spacing:0.36px">Oman 62.2</div>
<div class="t hl" style="left:485.0px;top:634.47px;letter-spacing:0.30px">Qatar 76.3</div>
<div class="t hl" style="left:485.0px;top:650.49px;letter-spacing:-0.09px">Saudi Arabia 71.1</div>
<div class="t hl" style="left:485.0px;top:666.51px;letter-spacing:0.10px">Syria 8.7</div>
<div class="t hl" style="left:485.0px;top:682.53px;letter-spacing:0.20px">Tunisia 41.8</div>
<div class="t hl" style="left:485.0px;top:698.55px;letter-spacing:0.43px">United Arab</div>
<div class="t hl" style="left:493.0px;top:714.57px;letter-spacing:-0.00px">Emirates 76.1</div>
<div class="t hl" style="left:485.0px;top:730.59px;letter-spacing:-0.10px">Yemen 17.5</div>
<div class="k hl" style="left:48.3px;top:53.20px">+5.0 and above</div>
<div class="k hl" style="left:48.3px;top:66.20px">+3.0 to 4.9</div>
<div class="k hl" style="left:48.3px;top:79.20px">+2.0 to 2.9</div>
<div class="k hl" style="left:48.3px;top:92.20px">+1.0 to 1.9</div>
<div class="k hl" style="left:48.3px;top:105.20px">+0.1 to 0.9</div>
<div class="k hl" style="left:48.3px;top:118.20px">0.0</div>
<div class="k hl" style="left:48.3px;top:131.20px">-0.1 to 0.9</div>
<div class="k hl" style="left:48.3px;top:144.20px">-1.0 to 1.9</div>
<div class="k hl" style="left:48.3px;top:157.20px">-2.0 to 2.9</div>
<div class="k hl" style="left:48.3px;top:170.20px">-3.0 to 4.9</div>
<div class="k hl" style="left:48.3px;top:183.20px">-5.0 and above</div>
<div class="t" style="left:35.0px;top:363.53px;color:#fbb033;letter-spacing:0.20px">Angola 32.5</div>
<div class="t" style="left:35.0px;top:379.55px;color:#2bbaf1;letter-spacing:0.18px">Benin 26.8</div>
<div class="t" style="left:35.0px;top:395.57px;color:#f47c3f;letter-spacing:0.25px">Botswana 58.8</div>
<div class="t" style="left:35.0px;top:411.59px;color:#fde622;letter-spacing:0.17px">Burkina Faso 20.6</div>
<div class="t" style="left:35.0px;top:427.61px;color:#f47c3f;letter-spacing:0.05px">Burundi 15.5</div>
<div class="t" style="left:35.0px;top:443.63px;color:#fbb033;letter-spacing:0.26px">Cameroon 29.4</div>
<div class="t" style="left:35.0px;top:459.65px;color:#fbb033;letter-spacing:0.30px">Cape Verde 25.5</div>
<div class="t" style="left:35.0px;top:475.67px;color:#7fd6f8;letter-spacing:0.44px">Central African</div>
<div class="t" style="left:43.0px;top:491.69px;color:#7fd6f8;letter-spacing:-0.03px">Rep. 10.5</div>
<div class="t" style="left:35.0px;top:507.71px;color:#ffffff;letter-spacing:-0.04px">Chad 15.3</div>
<div class="t" style="left:35.0px;top:523.73px;color:#ffffff;letter-spacing:-0.31px">Comoros 17.7</div>
<div class="t" style="left:35.0px;top:539.75px;color:#fde622;letter-spacing:0.07px">Congo 22.7</div>
<div class="t" style="left:35.0px;top:555.77px;color:#cdebfa;letter-spacing:0.18px">Côte d’Ivoire 35.6</div>
<div class="t" style="left:35.0px;top:571.79px;color:#fdeeb4;letter-spacing:-0.31px">Dem. Rep.</div>
<div class="t" style="left:43.0px;top:587.81px;color:#fdeeb4;letter-spacing:-0.01px">of Congo 15.0</div>
<div class="t" style="left:35.0px;top:603.83px;color:#1f9de0;letter-spacing:0.33px">Djibouti 28.0</div>
<div class="t" style="left:35.0px;top:619.85px;color:#7fd6f8;letter-spacing:0.29px">Equatorial</div>
<div class="t" style="left:43.0px;top:635.87px;color:#7fd6f8;letter-spacing:0.27px">Guinea 24.4</div>
<div class="t" style="left:35.0px;top:651.89px;color:#fdeeb4;letter-spacing:0.17px">Eritrea 13.2</div>
<div class="t" style="left:35.0px;top:667.91px;color:#ffffff;letter-spacing:0.15px">Ethiopia 22.7</div>
<div class="t" style="left:35.0px;top:683.93px;color:#ffffff;letter-spacing:0.34px">Gabon 36.0</div>
<div class="t" style="left:35.0px;top:699.95px;color:#fdeeb4;letter-spacing:0.09px">Gambia 18.2</div>
<div class="t" style="left:35.0px;top:715.97px;color:#2bbaf1;letter-spacing:-0.08px">Ghana 31.9</div>
<div class="t" style="left:35.0px;top:731.99px;color:#ffffff;letter-spacing:0.02px">Guinea 12.3</div>
<div class="t" style="left:185.0px;top:346.03px;color:#2bbaf1;letter-spacing:-0.02px">Guinea-Bissau 14.7</div>
<div class="t" style="left:185.0px;top:362.05px;color:#ffffff;letter-spacing:0.16px">Kenya 32.6</div>
<div class="t" style="left:185.0px;top:378.07px;color:#f47c3f;letter-spacing:0.32px">Lesotho 30.0</div>
<div class="t" style="left:185.0px;top:394.09px;color:#fdeeb4;letter-spacing:-0.14px">Liberia 17.7</div>
<div class="t" style="left:185.0px;top:410.11px;color:#ffffff;letter-spacing:0.35px">Madagascar 22.0</div>
<div class="t" style="left:185.0px;top:426.13px;color:#ffffff;letter-spacing:0.42px">Malawi 20.2</div>
<div class="t" style="left:185.0px;top:442.15px;color:#fdd51d;letter-spacing:-0.14px">Mali 19.7</div>
<div class="t" style="left:185.0px;top:458.17px;color:#ffffff;letter-spacing:0.14px">Mauritania 17.9</div>
<div class="t" style="left:185.0px;top:474.19px;color:#fbb033;letter-spacing:0.36px">Mauritius 53.5</div>
<div class="t" style="left:185.0px;top:490.21px;color:#f47c3f;letter-spacing:0.24px">Mozambique 18.0</div>
<div class="t" style="left:185.0px;top:506.23px;color:#f47c3f;letter-spacing:0.21px">Namibia 47.0</div>
<div class="t" style="left:185.0px;top:522.25px;color:#fdf4dc;letter-spacing:0.11px">Niger 16.6</div>
<div class="t" style="left:185.0px;top:538.27px;color:#fdf4dc;letter-spacing:0.29px">Nigeria 35.6</div>
<div class="t" style="left:185.0px;top:554.29px;color:#7fd6f8;letter-spacing:0.20px">Rwanda 29.9</div>
<div class="t" style="left:185.0px;top:570.31px;color:#f47c3f;letter-spacing:0.09px">São Tomé &</div>
<div class="t" style="left:193.0px;top:586.33px;color:#f47c3f;letter-spacing:0.15px">Príncipe 14.0</div>
<div class="t" style="left:185.0px;top:602.35px;color:#fdf4dc;letter-spacing:0.11px">Senegal 33.7</div>
<div class="t" style="left:185.0px;top:618.37px;color:#2bbaf1;letter-spacing:0.23px">Seychelles 30.6</div>
<div class="t" style="left:185.0px;top:634.39px;color:#fdf4dc;letter-spacing:0.05px">Sierra Leone 15.9</div>
<div class="t" style="left:185.0px;top:650.41px;color:#2bbaf1;letter-spacing:0.09px">Somalia 5.7</div>
<div class="t" style="left:185.0px;top:666.43px;color:#fdd51d;letter-spacing:0.20px">South Africa 51.9</div>
<div class="t" style="left:185.0px;top:682.45px;color:#7fd6f8;letter-spacing:0.06px">South Sudan 7.5</div>
<div class="t" style="left:185.0px;top:698.47px;color:#ffffff;letter-spacing:0.21px">Sudan 8.3</div>
<div class="t" style="left:185.0px;top:714.49px;color:#cdebfa;letter-spacing:0.32px">Swaziland 20.8</div>
<div class="t" style="left:185.0px;top:730.51px;color:#cdebfa;letter-spacing:0.29px">Tanzania 29.7</div>
<div class="t" style="left:334.5px;top:534.23px;color:#cdebfa;letter-spacing:0.33px">Togo 22.6</div>
<div class="t" style="left:334.5px;top:550.25px;color:#fdd51d;letter-spacing:0.39px">Uganda 30.4</div>
<div class="t" style="left:334.5px;top:566.27px;color:#fbb033;letter-spacing:0.18px">Zambia 31.4</div>
<div class="t" style="left:334.5px;top:582.29px;color:#7fd6f8;letter-spacing:0.41px">Zimbabwe 8.3</div>
<div class="t" style="left:334.5px;top:650.53px;color:#fdeeb4;letter-spacing:0.45px">Algeria 46.6</div>
<div class="t" style="left:334.5px;top:666.55px;color:#fdd51d;letter-spacing:0.29px">Bahrain 50.5</div>
<div class="t" style="left:334.5px;top:682.57px;color:#ffffff;letter-spacing:0.18px">Cyprus 37.8</div>
<div class="t" style="left:334.5px;top:698.59px;color:#cdebfa;letter-spacing:0.40px">Egypt 32.3</div>
<div class="t" style="left:334.5px;top:714.61px;color:#fdd51d;letter-spacing:0.32px">Iran 26.3</div>
<div class="t" style="left:334.5px;top:730.63px;color:#7fd6f8;letter-spacing:0.16px">Iraq 21.4</div>
<div class="t" style="left:485.0px;top:522.33px;color:#cdebfa;letter-spacing:-0.05px">Israel 71.2</div>
<div class="t" style="left:485.0px;top:538.35px;color:#cdebfa;letter-spacing:0.14px">Jordan 41.5</div>
<div class="t" style="left:485.0px;top:554.37px;color:#ffffff;letter-spacing:0.09px">Kuwait 73.7</div>
<div class="t" style="left:485.0px;top:570.39px;color:#cdebfa;letter-spacing:0.18px">Lebanon 29.8</div>
<div class="t" style="left:485.0px;top:586.41px;color:#ffffff;letter-spacing:-0.14px">Libya 27.7</div>
<div class="t" style="left:485.0px;top:602.43px;color:#fdeeb4;letter-spacing:0.34px">Morocco 50.2</div>
<div class="t" style="left:485.0px;top:618.45px;color:#fbb033;letter-spacing:0.36px">Oman 62.2</div>
<div class="t" style="left:485.0px;top:634.47px;color:#ffffff;letter-spacing:0.30px">Qatar 76.3</div>
<div class="t" style="left:485.0px;top:650.49px;color:#ffffff;letter-spacing:-0.09px">Saudi Arabia 71.1</div>
<div class="t" style="left:485.0px;top:666.51px;color:#ffffff;letter-spacing:0.10px">Syria 8.7</div>
<div class="t" style="left:485.0px;top:682.53px;color:#fdf4dc;letter-spacing:0.20px">Tunisia 41.8</div>
<div class="t" style="left:485.0px;top:698.55px;color:#2bbaf1;letter-spacing:0.43px">United Arab</div>
<div class="t" style="left:493.0px;top:714.57px;color:#2bbaf1;letter-spacing:-0.00px">Emirates 76.1</div>
<div class="t" style="left:485.0px;top:730.59px;color:#1f9de0;letter-spacing:-0.10px">Yemen 17.5</div>
<div class="dot" style="left:34.5px;top:54.9px;background:#1c8fc9"></div>
<div class="k" style="left:48.3px;top:53.20px">+5.0 and above</div>
<div class="dot" style="left:34.5px;top:67.9px;background:#1db1ee"></div>
<div class="k" style="left:48.3px;top:66.20px">+3.0 to 4.9</div>
<div class="dot" style="left:34.5px;top:80.9px;background:#2cb5ef"></div>
<div class="k" style="left:48.3px;top:79.20px">+2.0 to 2.9</div>
<div class="dot" style="left:34.5px;top:93.9px;background:#76c9f4"></div>
<div class="k" style="left:48.3px;top:92.20px">+1.0 to 1.9</div>
<div class="dot" style="left:34.5px;top:106.9px;background:#c3e6fb"></div>
<div class="k" style="left:48.3px;top:105.20px">+0.1 to 0.9</div>
<div class="dot" style="left:34.5px;top:119.9px;background:#ffffff"></div>
<div class="k" style="left:48.3px;top:118.20px">0.0</div>
<div class="dot" style="left:34.5px;top:132.9px;background:#fdf3d5"></div>
<div class="k" style="left:48.3px;top:131.20px">-0.1 to 0.9</div>
<div class="dot" style="left:34.5px;top:145.9px;background:#fde2a8"></div>
<div class="k" style="left:48.3px;top:144.20px">-1.0 to 1.9</div>
<div class="dot" style="left:34.5px;top:158.9px;background:#fdc70d"></div>
<div class="k" style="left:48.3px;top:157.20px">-2.0 to 2.9</div>
<div class="dot" style="left:34.5px;top:171.9px;background:#f79b1e"></div>
<div class="k" style="left:48.3px;top:170.20px">-3.0 to 4.9</div>
<div class="dot" style="left:34.5px;top:184.9px;background:#f26a25"></div>
<div class="k" style="left:48.3px;top:183.20px">-5.0 and above</div>
</body></html>
